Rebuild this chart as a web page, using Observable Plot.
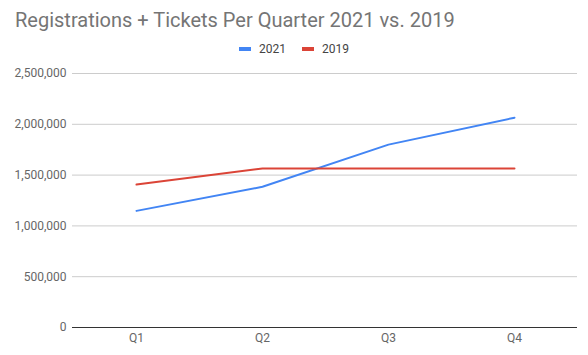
<!DOCTYPE html>
<html><head><meta charset="utf-8">
<script src="https://cdn.jsdelivr.net/npm/d3@7"></script>
<script src="https://cdn.jsdelivr.net/npm/@observablehq/plot@0.6"></script>
<style>
body{margin:0;background:#fff;font-family:Roboto, sans-serif;}
#chart{width:588px;height:355px;overflow:hidden}
#header{position:relative;width:588px;height:58px}
#title{position:absolute;left:15px;top:8px;font-size:20px;line-height:24px;color:#757575;white-space:nowrap}
#legend{position:absolute;top:42px;left:0;width:588px;display:flex;justify-content:center;align-items:center;font-size:12px;line-height:14px;color:#444}
.item{display:flex;align-items:center;margin:0 8px}
.sw{display:inline-block;width:12px;height:4px;margin-right:8px}
</style></head>
<body>
<div id="chart">
  <div id="header">
    <div id="title">Registrations + Tickets Per Quarter 2021 vs. 2019</div>
    <div id="legend"></div>
  </div>
  <div id="plot"></div>
</div>
<script>
const quarters = ["Q1", "Q2", "Q3", "Q4"];
const values2021 = [1148000, 1385000, 1800000, 2065000];
const values2019 = [1407000, 1565000, 1565000, 1565000];
const seriesNames = ["2021", "2019"];
const seriesColors = ["#4285F4", "#DB4437"];
const yTicks = [0, 500000, 1000000, 1500000, 2000000, 2500000];

const data = [
  ...quarters.map((q, i) => ({quarter: q, value: values2021[i], series: seriesNames[0]})),
  ...quarters.map((q, i) => ({quarter: q, value: values2019[i], series: seriesNames[1]}))
];

const legend = document.getElementById("legend");
seriesNames.forEach((s, i) => {
  const it = document.createElement("div");
  it.className = "item";
  const sw = document.createElement("span");
  sw.className = "sw";
  sw.style.background = seriesColors[i];
  it.appendChild(sw);
  it.appendChild(document.createTextNode(s));
  legend.appendChild(it);
});

const chart = Plot.plot({
  width: 588,
  height: 297,
  marginTop: 15,
  marginBottom: 28,
  marginLeft: 72,
  marginRight: 11,
  style: {fontFamily: "Roboto, sans-serif", fontSize: "12px", color: "#666", background: "#fff"},
  x: {type: "point", domain: quarters, padding: 0.5, label: null},
  y: {domain: [0, 2500000], label: null},
  color: {domain: seriesNames, range: seriesColors},
  marks: [
    Plot.gridY(yTicks, {stroke: "#cccccc", strokeOpacity: 1}),
    Plot.axisY(yTicks, {tickSize: 0, tickPadding: 6, tickFormat: d3.format(","), label: null, fill: "#666"}),
    Plot.axisX({tickSize: 0, tickPadding: 6, label: null, fill: "#666"}),
    Plot.ruleY([0], {stroke: "#333", strokeWidth: 1}),
    Plot.line(data, {x: "quarter", y: "value", z: "series", stroke: "series", strokeWidth: 2})
  ]
});
document.getElementById("plot").appendChild(chart);
</script>
</body></html>
